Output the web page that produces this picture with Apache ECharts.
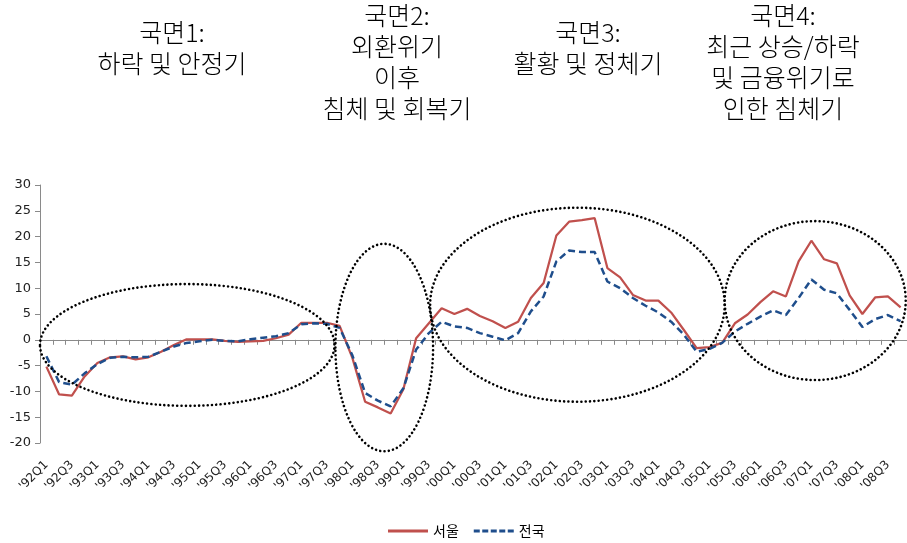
<!DOCTYPE html>
<html>
<head>
<meta charset="utf-8">
<script src="https://cdn.jsdelivr.net/npm/echarts@6/dist/echarts.min.js"></script>
<style>
  html, body { margin: 0; padding: 0; background: #fff; }
  #chart { width: 907px; height: 543px; }
</style>
</head>
<body>
<div id="chart"></div>
<script>
// Quarterly categories, 1992 Q1 – 2008 Q4
const quarters = [
  "'92Q1","'92Q2","'92Q3","'92Q4","'93Q1","'93Q2","'93Q3","'93Q4",
  "'94Q1","'94Q2","'94Q3","'94Q4","'95Q1","'95Q2","'95Q3","'95Q4",
  "'96Q1","'96Q2","'96Q3","'96Q4","'97Q1","'97Q2","'97Q3","'97Q4",
  "'98Q1","'98Q2","'98Q3","'98Q4","'99Q1","'99Q2","'99Q3","'99Q4",
  "'00Q1","'00Q2","'00Q3","'00Q4","'01Q1","'01Q2","'01Q3","'01Q4",
  "'02Q1","'02Q2","'02Q3","'02Q4","'03Q1","'03Q2","'03Q3","'03Q4",
  "'04Q1","'04Q2","'04Q3","'04Q4","'05Q1","'05Q2","'05Q3","'05Q4",
  "'06Q1","'06Q2","'06Q3","'06Q4","'07Q1","'07Q2","'07Q3","'07Q4",
  "'08Q1","'08Q2","'08Q3","'08Q4"
];

// Seoul
const seoul = [
  -5.2, -10.6, -10.8, -7.1, -4.5, -3.4, -3.2, -3.8,
  -3.4, -2.3, -1.0, 0.1, 0.1, 0.1, -0.2, -0.4,
  -0.3, -0.2, 0.3, 1.0, 3.3, 3.3, 3.3, 2.7,
  -3.5, -12.0, -13.1, -14.3, -9.6, 0.3, 3.2, 6.1,
  5.0, 6.0, 4.6, 3.6, 2.3, 3.5, 8.1, 11.0,
  20.2, 22.9, 23.2, 23.6, 13.9, 12.1, 8.7, 7.6,
  7.6, 5.3, 1.9, -1.6, -1.4, -0.6, 3.2, 4.9,
  7.3, 9.4, 8.4, 15.2, 19.2, 15.6, 14.8, 8.6,
  5.0, 8.2, 8.4, 6.3
];

// Nationwide
const nation = [
  -3.2, -8.2, -8.7, -6.5, -4.7, -3.5, -3.3, -3.4,
  -3.3, -2.3, -1.3, -0.6, -0.3, 0.0, -0.2, -0.3,
  0.1, 0.4, 0.7, 1.3, 3.0, 3.2, 3.1, 2.3,
  -3.0, -10.3, -11.8, -12.9, -9.4, -1.9, 1.3, 3.5,
  2.6, 2.3, 1.3, 0.6, -0.1, 1.3, 5.5, 8.4,
  15.2, 17.3, 17.0, 17.0, 11.3, 10.0, 8.1, 6.6,
  5.3, 3.5, 1.0, -2.3, -1.8, -0.6, 1.6, 3.1,
  4.5, 5.7, 4.8, 8.1, 11.7, 9.7, 9.0, 5.8,
  2.5, 4.0, 4.8, 3.6
];

const seriesNames = ['서울', '전국'];

// Y axis range
const yMin = -20, yMax = 30, yStep = 5;

// Phase headings
const phaseTexts = [
  '국면1:\n하락 및 안정기',
  '국면2:\n외환위기\n이후\n침체 및 회복기',
  '국면3:\n활황 및 정체기',
  '국면4:\n최근 상승/하락\n및 금융위기로\n인한 침체기'
];

// Phase outlines in data units: [center index, center value, half-width in quarters, half-height in value]
const phaseRings = [
  [11.05, -1.0, 11.55, 11.8],
  [26.5, -1.5, 3.83, 20.1],
  [41.65, 6.8, 11.55, 18.8],
  [60.3, 7.6, 7.1, 15.4]
];

const RED = '#C0504D';
const BLUE = '#1F4E8C';

const chart = echarts.init(document.getElementById('chart'), null, { renderer: 'canvas' });

const headingPos = [[172, 17], [397, 0], [588, 17], [783, 0]];

const headingGraphics = phaseTexts.map((t, i) => ({
  type: 'text',
  x: headingPos[i][0],
  y: headingPos[i][1],
  z: 100,
  style: {
    text: t,
    textAlign: 'center',
    textVerticalAlign: 'top',
    fontFamily: 'Noto Sans CJK KR',
    fontSize: 25,
    fontWeight: 300,
    lineHeight: 31,
    fill: '#000'
  }
}));

// Legend swatches: a solid bar and a dashed bar
const solidIcon = 'path://M0,0H40V3H0Z';
const dashIcon = 'path://M0,0h6v3h-6z M8.5,0h6v3h-6z M17,0h6v3h-6z M25.5,0h6v3h-6z M34,0h6v3h-6z';

chart.setOption({
  animation: false,
  backgroundColor: '#fff',
  grid: { left: 40, top: 185, width: 871, height: 258, containLabel: false },
  legend: {
    data: [
      { name: seriesNames[0], icon: solidIcon },
      { name: seriesNames[1], icon: dashIcon }
    ],
    bottom: 0,
    left: 383,
    itemWidth: 40,
    itemHeight: 3,
    itemGap: 15,
    textStyle: { fontFamily: 'Noto Sans CJK KR', fontSize: 14, color: '#000' }
  },
  xAxis: [
    {
      type: 'category',
      data: quarters,
      boundaryGap: true,
      axisLine: { onZero: true, lineStyle: { color: '#8a8a8a', width: 1 } },
      axisTick: { show: true, interval: 0, length: 5, inside: false, lineStyle: { color: '#8a8a8a' } },
      axisLabel: { show: false },
      splitLine: { show: false }
    },
    {
      type: 'category',
      data: quarters,
      position: 'bottom',
      boundaryGap: true,
      axisLine: { show: false, onZero: false },
      axisTick: { show: false },
      axisLabel: {
        interval: 1,
        rotate: 45,
        margin: 20,
        fontFamily: 'DejaVu Sans',
        fontSize: 12,
        color: '#222'
      },
      splitLine: { show: false }
    }
  ],
  yAxis: {
    type: 'value',
    min: yMin,
    max: yMax,
    interval: yStep,
    axisLine: { show: true, lineStyle: { color: '#8a8a8a' } },
    axisTick: { show: true, length: 5, lineStyle: { color: '#8a8a8a' } },
    axisLabel: { fontFamily: 'DejaVu Sans', fontSize: 13, color: '#222', margin: 9 },
    splitLine: { show: false }
  },
  series: [
    {
      name: seriesNames[0],
      type: 'line',
      data: seoul,
      xAxisIndex: 0,
      symbol: 'none',
      lineStyle: { color: RED, width: 2.25 },
      itemStyle: { color: RED },
      z: 2
    },
    {
      name: seriesNames[1],
      type: 'line',
      data: nation,
      xAxisIndex: 0,
      symbol: 'none',
      lineStyle: { color: BLUE, width: 2.5, type: [7, 4] },
      itemStyle: { color: BLUE },
      z: 3
    }
  ]
});

// Outline each phase with a dotted ellipse, placed through the axis scales
function ringGraphics() {
  const p0 = chart.convertToPixel({ xAxisIndex: 0, yAxisIndex: 0 }, [0, 0]);
  const p1 = chart.convertToPixel({ xAxisIndex: 0, yAxisIndex: 0 }, [1, 1]);
  const dx = p1[0] - p0[0];
  const dy = p0[1] - p1[1];
  return phaseRings.map(r => ({
    type: 'ellipse',
    z: 50,
    silent: true,
    shape: {
      cx: p0[0] + r[0] * dx,
      cy: p0[1] - r[1] * dy,
      rx: r[2] * dx,
      ry: r[3] * dy
    },
    style: {
      fill: null,
      stroke: '#000',
      lineWidth: 2.6,
      lineDash: [0.01, 4.3],
      lineCap: 'round'
    }
  }));
}

chart.setOption({ graphic: headingGraphics.concat(ringGraphics()) });
</script>
</body>
</html>
